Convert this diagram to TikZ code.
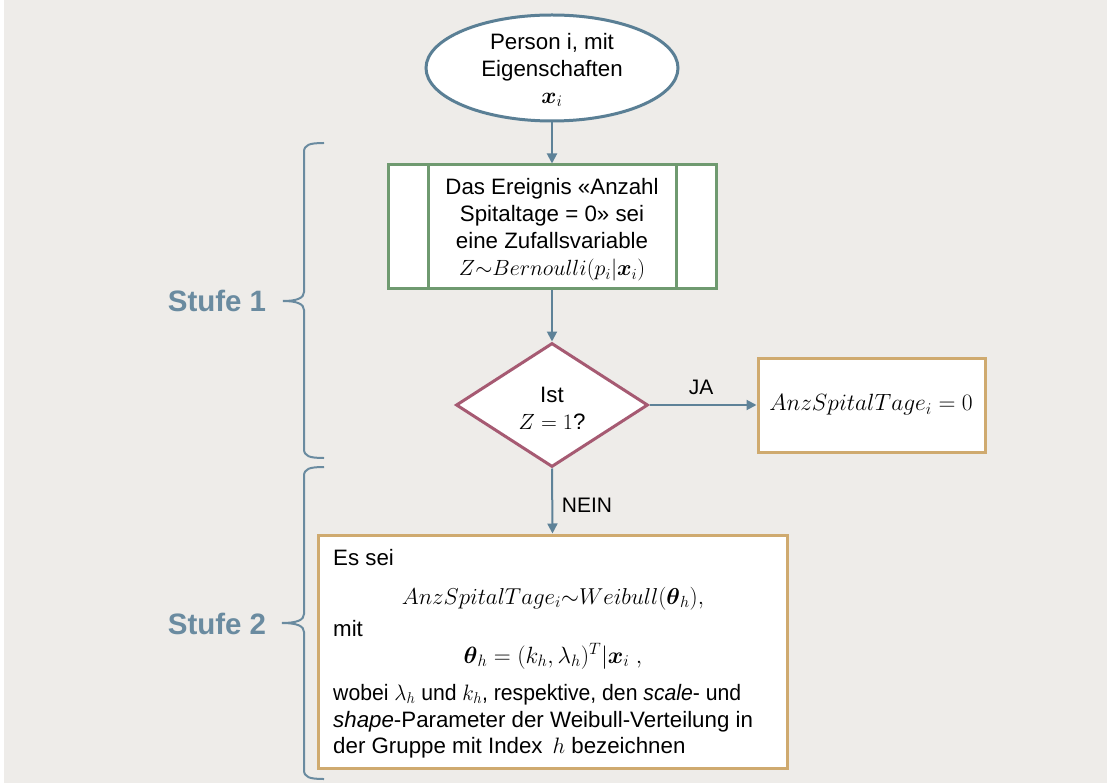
\RequirePackage{fix-cm}
\documentclass[tikz,border=0pt]{standalone}
\usepackage{amsmath}
\usepackage{graphicx}
\usepackage[no-math]{fontspec}
\setmainfont{Liberation Sans}
\usetikzlibrary{shapes.geometric,arrows.meta,calc}
\definecolor{bgc}{HTML}{EEECE9}
\definecolor{arrc}{HTML}{5E8298}
\definecolor{ellc}{HTML}{5A7F95}
\definecolor{grnc}{HTML}{6F9A70}
\definecolor{dmdc}{HTML}{A65A72}
\definecolor{tanc}{HTML}{CFAA6F}
\definecolor{stfc}{HTML}{6A8BA0}
\newcommand{\bigtxt}{\fontsize{22.3}{27}\selectfont}
\newcommand{\smtxt}{\fontsize{22.3}{27}\selectfont}
\newcommand{\mth}[2]{{\fontsize{#1}{27}\selectfont$#2$}}
\begin{document}
\begin{tikzpicture}[x=1pt,y=-1pt,
  shapebase/.style={draw, line width=3pt, fill=white, align=center, font=\bigtxt},
  ellnode/.style={shapebase, ellipse, draw=ellc, inner sep=0pt, minimum width=252pt, minimum height=106pt},
  procnode/.style={shapebase, rectangle, draw=grnc, minimum width=328pt, minimum height=124pt, inner sep=0pt},
  decnode/.style={shapebase, diamond, draw=dmdc, minimum width=192pt, minimum height=124pt, inner sep=0pt},
  resnode/.style={shapebase, rectangle, draw=tanc, minimum width=227pt, minimum height=94pt},
  bignode/.style={shapebase, rectangle, draw=tanc, minimum width=469pt, minimum height=233pt},
  inner/.style={align=center, font=\bigtxt, inner sep=0pt},
  arr/.style={draw=arrc, line width=2pt, -{Triangle[length=10pt,width=10pt]}},
  bracec/.style={draw=stfc, line width=2pt},
  stufe/.style={text=stfc, font=\fontsize{29.5}{32}\selectfont\bfseries},
  lbl/.style={font=\fontsize{21}{24}\selectfont},
  btxt/.style={font=\smtxt, inner sep=0pt, anchor=base west},
  beq/.style={font=\smtxt, inner sep=0pt, anchor=base}
]
\fill[bgc] (0,0) rectangle (1107,783);
\fill[white] (0,0) rectangle (4,783);
\useasboundingbox (0,0) rectangle (1107,783);

% nodes
\node[ellnode] (start) at (552,68) {};
\node[inner] (starttxt) at (552,70) {Person i, mit\\Eigenschaften\\\mth{23}{\boldsymbol{x}_i}};
\node[procnode] (proc) at (552,227) {};
\node[inner] (proctxt) at (552,230) {Das Ereignis «Anzahl\\Spitaltage = 0» sei\\eine Zufallsvariable\\\mth{22}{Z{\sim}Bernoulli(p_i|\boldsymbol{x}_i)}};
\draw[draw=grnc, line width=3pt] ([xshift=42pt]proc.north west) -- ([xshift=42pt]proc.south west);
\draw[draw=grnc, line width=3pt] ([xshift=-41pt]proc.north east) -- ([xshift=-41pt]proc.south east);
\node[decnode] (dec) at (552,405) {};
\node[inner] (dectxt) at (552,408) {Ist\\\mth{22}{Z = 1}?};
\node[resnode] (res) at (871.5,405) {};
\node[inner] (restxt) at (871,405) {\mth{23.5}{AnzSpitalTage_i = 0}};
\node[bignode] (big) at (552.5,651.5) {};

% text inside big box
\node[btxt] (t1) at (333,565) {Es sei};
\node[beq] (t2) at (553,604) {\mth{23}{AnzSpitalTage_i{\sim}Weibull(\boldsymbol{\theta}_h),}};
\node[btxt] (t3) at (333,636) {mit};
\node[beq] (t4) at (553,663) {\mth{23.5}{\boldsymbol{\theta}_h = (k_h, \lambda_h)^T|\boldsymbol{x}_i\ ,}};
\node[btxt] (t5) at (333,700) {\scalebox{0.95}[1]{wobei $\lambda_h$ und $k_h$, respektive, den \textit{scale}- und}};
\node[btxt] (t6) at (333,727) {\textit{shape}-Parameter der Weibull-Verteilung in};
\node[btxt] (t7) at (333,753) {der Gruppe mit Index $\,h$ bezeichnen};

% connectors
\draw[arr] (start.south) -- (proc.north);
\draw[arr] (proc.south) -- (dec.north);
\draw[arr] (dec.east) -- (res.west);
\draw[arr] (dec.south) -- (big.north);
\node[lbl] (ja) at (701,387) {JA};
\node[lbl] (nein) at (587,505) {NEIN};

% braces
\draw[bracec] (324,143) .. controls (309,143) and (304,145) .. (304,152) -- (304,292)
  .. controls (304,298) and (297,301) .. (283,301)
  .. controls (297,301) and (304,304) .. (304,310) -- (304,449)
  .. controls (304,456) and (309,458) .. (324,458);
\draw[bracec] (324,467) .. controls (309,467) and (304,469) .. (304,476) -- (304,614)
  .. controls (304,620) and (297,623) .. (282,623)
  .. controls (297,623) and (304,626) .. (304,632) -- (304,770)
  .. controls (304,777) and (309,779) .. (324,779);
\node[stufe] (s1) at (217,301) {Stufe 1};
\node[stufe] (s2) at (217,624) {Stufe 2};
\end{tikzpicture}
\end{document}
